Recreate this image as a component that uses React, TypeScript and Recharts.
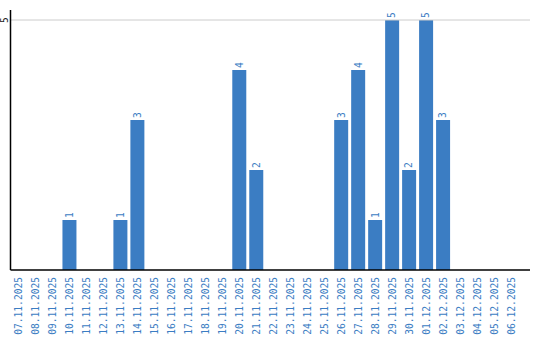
import React from 'react';
import { BarChart, Bar, XAxis, YAxis, ReferenceLine, LabelList } from 'recharts';

const dates = [
  '07.11.2025', '08.11.2025', '09.11.2025', '10.11.2025', '11.11.2025', '12.11.2025',
  '13.11.2025', '14.11.2025', '15.11.2025', '16.11.2025', '17.11.2025', '18.11.2025',
  '19.11.2025', '20.11.2025', '21.11.2025', '22.11.2025', '23.11.2025', '24.11.2025',
  '25.11.2025', '26.11.2025', '27.11.2025', '28.11.2025', '29.11.2025', '30.11.2025',
  '01.12.2025', '02.12.2025', '03.12.2025', '04.12.2025', '05.12.2025', '06.12.2025',
];
const counts = [0, 0, 0, 1, 0, 0, 1, 3, 0, 0, 0, 0, 0, 4, 2, 0, 0, 0, 0, 3, 4, 1, 5, 2, 5, 3, 0, 0, 0, 0];
const yTicks = [5];

const data = dates.map((d, i) => ({ date: d, value: counts[i] }));

const BLUE = '#3b7dc3';
const FONT = 'DejaVu Sans Mono';

const XTick = (props: any) => {
  const { x, y, payload } = props;
  const ty = y - 1;
  return (
    <text
      x={x}
      y={ty}
      transform={`rotate(-90, ${x}, ${ty})`}
      textAnchor="end"
      dy="0.35em"
      fill={BLUE}
      fontFamily={FONT}
      fontSize={9.6}
    >
      {payload.value}
    </text>
  );
};

const YTick = (props: any) => {
  const { y, payload } = props;
  const px = 4.5;
  return (
    <text
      x={px}
      y={y}
      transform={`rotate(-90, ${px}, ${y})`}
      textAnchor="middle"
      dy="0.35em"
      fill="#222"
      fontFamily={FONT}
      fontSize={9.6}
    >
      {payload.value}
    </text>
  );
};

const ValueLabel = (props: any) => {
  const { x, y, width, value } = props;
  if (!value) return null;
  const cx = x + width / 2;
  const ty = y - 2;
  return (
    <text
      x={cx}
      y={ty}
      transform={`rotate(-90, ${cx}, ${ty})`}
      textAnchor="start"
      dy="0.35em"
      fill={BLUE}
      fontFamily={FONT}
      fontSize={9.6}
    >
      {value}
    </text>
  );
};

export default function App() {
  return (
    <div style={{ position: 'absolute', left: 0, top: 0, background: '#fff' }}>
      <BarChart
        width={540}
        height={340}
        data={data}
        margin={{ top: 10, right: 10, left: 0, bottom: 0 }}
      >
        <XAxis
          dataKey="date"
          interval={0}
          height={70}
          padding={{ left: 0, right: 10 }}
          tick={<XTick />}
          tickLine={false}
          axisLine={{ stroke: '#000', strokeWidth: 1.5 }}
        />
        <YAxis
          width={10.5}
          domain={[0, 5.2]}
          ticks={yTicks}
          tick={<YTick />}
          tickLine={false}
          axisLine={{ stroke: '#000', strokeWidth: 1.5 }}
        />
        {yTicks.map((t) => (
          <ReferenceLine key={t} y={t} stroke="#cccccc" strokeWidth={1} ifOverflow="extendDomain" />
        ))}
        <Bar dataKey="value" fill={BLUE} barSize={14} isAnimationActive={false}>
          <LabelList dataKey="value" content={<ValueLabel />} />
        </Bar>
      </BarChart>
    </div>
  );
}
